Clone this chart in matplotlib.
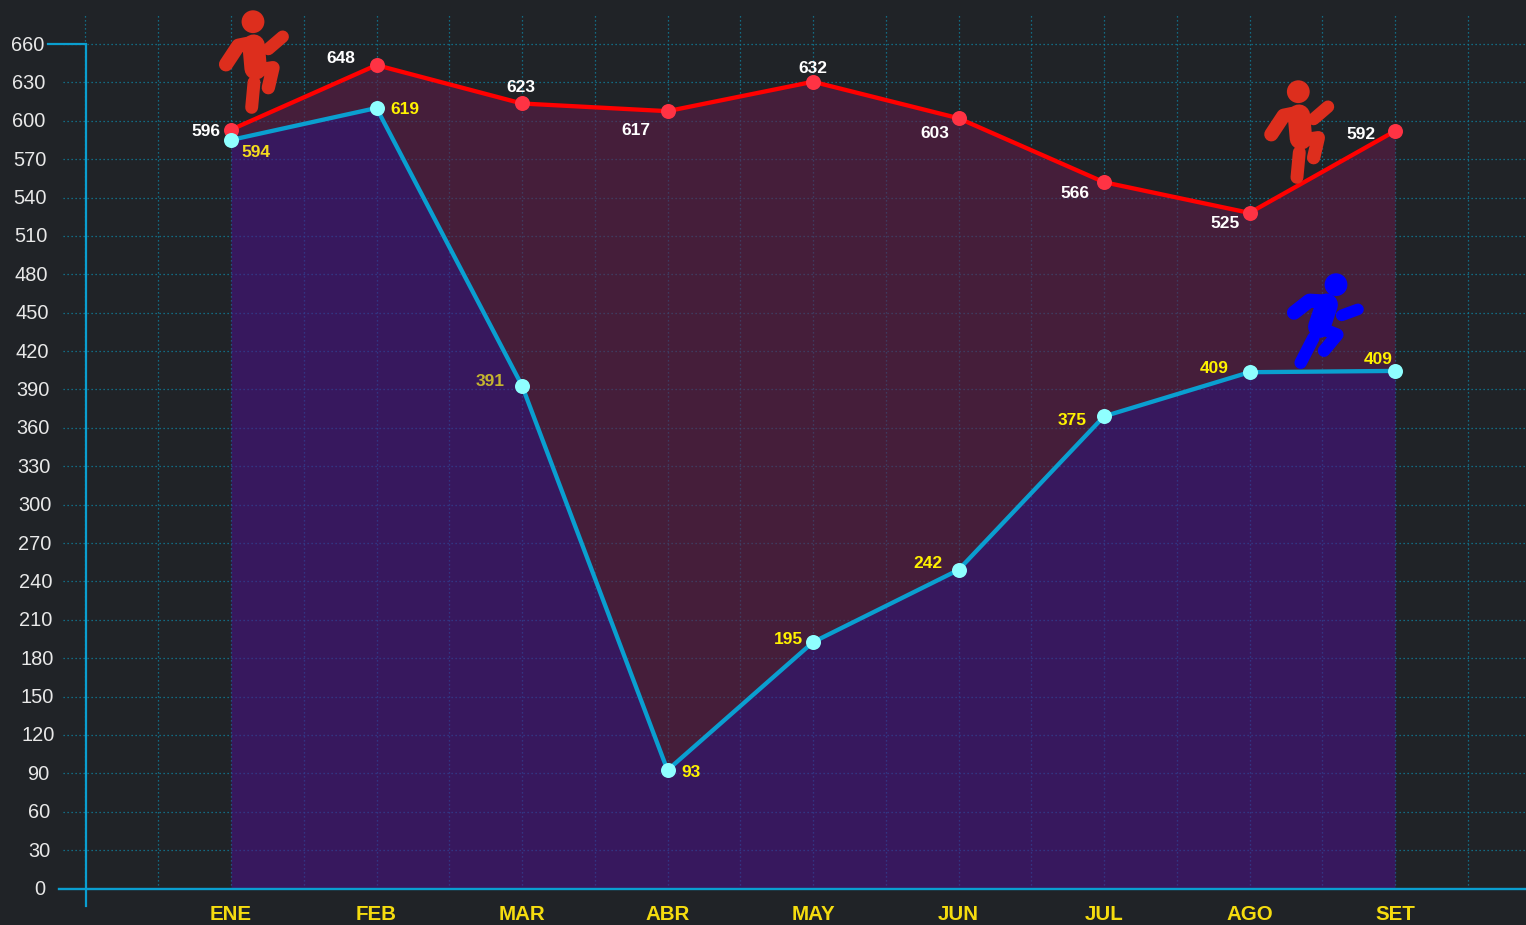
import matplotlib
matplotlib.use('Agg')
import matplotlib.pyplot as plt
from matplotlib.patches import Circle
import numpy as np

plt.rcParams['font.family'] = ['Liberation Sans', 'DejaVu Sans']

months = ['ENE', 'FEB', 'MAR', 'ABR', 'MAY', 'JUN', 'JUL', 'AGO', 'SET']

# where the points sit on the axis (the labels do not always agree with them)
red_values = [593, 643.5, 613.5, 607.5, 630.5, 602, 552, 528, 592]
blue_values = [585, 610, 393, 92.5, 192.5, 249, 369, 403.5, 404.5]

red_labels = ['596', '648', '623', '617', '632', '603', '566', '525', '592']
blue_labels = ['594', '619', '391', '93', '195', '242', '375', '409', '409']

y_ticks = list(range(0, 661, 30))

# label offsets from the point, in pixels
red_offsets = [(-25, -2), (-35.5, 7), (-1, 15.5), (-31.5, -19.5), (0, 13),
               (-23.5, -15), (-29, -11), (-24.5, -11), (-34, -3)]
blue_offsets = [(25, -13), (28.5, -2), (-32, 4), (23.5, -2), (-25, 3),
                (-30.5, 6), (-32, -4), (-35.5, 4), (-17, 11)]

BG = '#202327'
AXIS = '#0A9FD0'
GRID = '#0F82A0'
YELLOW = '#FFF200'

W, H = 1526, 925
X0, XSTEP = 231.0, 145.5
Y0, YSTEP = 888.5, 844.5 / 660


def PxToX(px):
    return (px - X0) / XSTEP


def PxToY(py):
    return (Y0 - py) / YSTEP


fig = plt.figure(figsize=(W / 100, H / 100), dpi=100, facecolor=BG)
ax = fig.add_axes([0, 0, 1, 1], facecolor=BG)
ax.set_xlim(PxToX(0), PxToX(W))
ax.set_ylim(PxToY(H), PxToY(0))
ax.axis('off')

x = np.arange(len(months))

# grid
dots = (0, (1, 2.2))
ax.hlines(y_ticks[1:], PxToX(63), PxToX(W), color=GRID, linewidth=0.9, linestyle=dots, zorder=1)
ax.vlines(np.arange(-1, 9, 0.5), 0, PxToY(15), color=GRID, linewidth=0.9, linestyle=dots, zorder=1)

# areas
ax.fill_between(x, 0, blue_values, color='#481284', alpha=0.6, linewidth=0, zorder=2)
ax.fill_between(x, blue_values, red_values, color='#5E1C48', alpha=0.6, linewidth=0, zorder=2)

# series
ax.plot(x, red_values, color='#FF0000', linewidth=3.1, zorder=4, solid_capstyle='round')
ax.plot(x, red_values, linestyle='none', marker='o', markersize=10.8, color='#FF3344', markeredgewidth=0, zorder=5)
ax.plot(x, blue_values, color=AXIS, linewidth=3.1, zorder=6, solid_capstyle='round')
ax.plot(x, blue_values, linestyle='none', marker='o', markersize=10.8, color='#8FFFFF', markeredgewidth=0, zorder=7)

for i in range(len(months)):
    ax.annotate(red_labels[i], (x[i], red_values[i]), xytext=red_offsets[i], textcoords='offset pixels',
                color='white', fontsize=12.5, fontweight='bold', ha='center', va='center', zorder=8)
    color = YELLOW
    if blue_labels[i] == '391':
        color = '#C4B530'
    elif blue_labels[i] == '594':
        color = '#F5DC1E'
    ax.annotate(blue_labels[i], (x[i], blue_values[i]), xytext=blue_offsets[i], textcoords='offset pixels',
                color=color, fontsize=12.5, fontweight='bold', ha='center', va='center', zorder=8)

# tick labels, the y ones drift to the left going up
for v in y_ticks:
    ax.text(PxToX(40 - 12.0 * v / 660), v - 0.8, str(v), color='#E8E8E8', fontsize=14.4, ha='center', va='center', zorder=8)

for i, m in enumerate(months):
    py = 915 if m == 'FEB' else 914
    ax.text(i, PxToY(py), m, color='#F5DC0F', fontsize=14.8, fontweight='bold', ha='center', va='center', zorder=8)

# overlay in pixels for axis lines and the icons
over = fig.add_axes([0, 0, 1, 1], facecolor='none')
over.set_xlim(0, W)
over.set_ylim(H, 0)
over.axis('off')

over.plot([48, 86, 86], [44, 44, 906], color=AXIS, linewidth=1.6, solid_joinstyle='miter')
over.plot([59, W], [Y0, Y0], color=AXIS, linewidth=1.7)


def Limb(head, points, width, color):
    px = [head[0] + p[0] / 3.0 for p in points]
    py = [head[1] + p[1] / 3.0 for p in points]
    over.plot(px, py, color=color, linewidth=width / 3.0 * 0.9, solid_capstyle='round', solid_joinstyle='round')


def KneeRunner(head, color='#DD2E1D'):
    over.add_patch(Circle(head, 11.4, color=color, linewidth=0))
    Limb(head, [(-81, 128), (-44, 72), (5, 62)], 34, color)
    Limb(head, [(2, 72), (8, 140)], 54, color)
    Limb(head, [(6, 146), (60, 138), (46, 198)], 32, color)
    Limb(head, [(3, 182), (-4, 257)], 31, color)
    Limb(head, [(46, 82), (89, 45)], 30, color)


def SprintRunner(head, color='#0000FF'):
    over.add_patch(Circle(head, 11.4, color=color, linewidth=0))
    Limb(head, [(-126, 84), (-80, 48), (-28, 51)], 34, color)
    Limb(head, [(-28, 60), (-50, 126)], 54, color)
    Limb(head, [(-52, 128), (4, 150), (-36, 198)], 30, color)
    Limb(head, [(-68, 160), (-106, 234)], 30, color)
    Limb(head, [(17, 92), (66, 74)], 28, color)


KneeRunner((253, 21.7))
KneeRunner((1298.3, 91.7))
SprintRunner((1336, 284.7))

fig.savefig('out.png', dpi=100, facecolor=BG)
